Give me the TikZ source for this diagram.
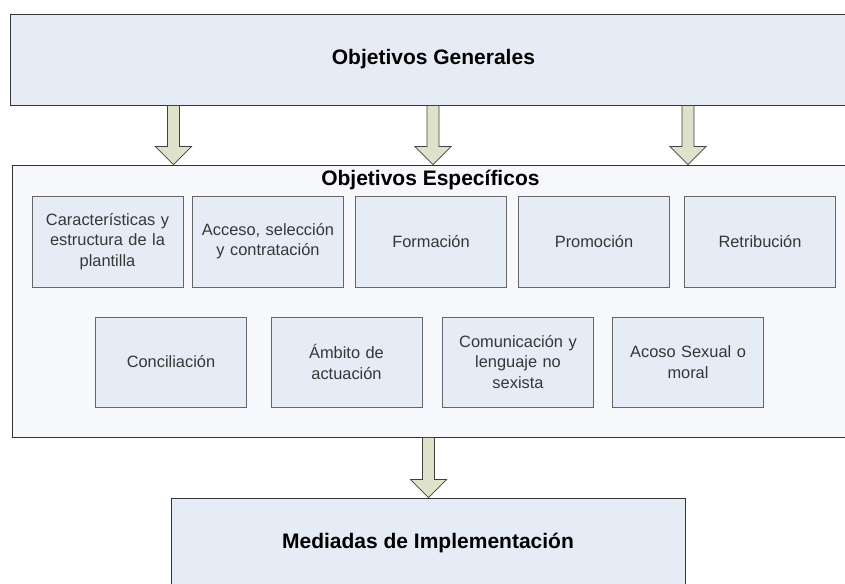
\documentclass[tikz,border=0pt]{standalone}
\usepackage{fontspec}
\setmainfont{Liberation Sans}
\usetikzlibrary{calc}
\definecolor{boxfill}{HTML}{E6ECF6}
\definecolor{midfill}{HTML}{F7F8FC}
\definecolor{arrfill}{HTML}{DDE2CA}
\definecolor{innertext}{HTML}{363636}
\begin{document}
\begin{tikzpicture}[x=1pt,y=-1pt,
  outerbox/.style={draw=black!80,line width=0.9pt,fill=boxfill,rectangle,inner sep=0pt},
  innerbox/.style={draw=black!60,line width=0.8pt,fill=boxfill,rectangle,inner sep=0pt,
    minimum width=151pt,minimum height=91pt,text width=145pt,align=center,
    font=\fontsize{16.4}{20.3}\selectfont,text=innertext},
  titletext/.style={font=\fontsize{21}{24}\selectfont\bfseries,text=black},
  barrow/.style={draw=black!75,line width=0.7pt,fill=arrfill,line join=miter}]
\useasboundingbox (0,0) rectangle (845,583);
% boxes
\node[outerbox,minimum width=845.2pt,minimum height=91pt] (top) at (433.4,59.5) {};
\node[titletext] (toptxt) at (433.4,59.5) {Objetivos Generales};
\node[outerbox,fill=midfill,minimum width=835.3pt,minimum height=272pt] (mid) at (430.4,301) {};
\node[titletext] (midtxt) at (430.4,180) {Objetivos Específicos};
\node[outerbox,minimum width=514pt,minimum height=90pt] (bot) at (428,543) {};
\node[titletext] (bottxt) at (428,543) {Mediadas de Implementación};
% inner boxes row 1
\node[innerbox] (b1) at (107.5,241.5) {Características y\\estructura de la\\plantilla};
\node[innerbox] (b2) at (268,241.5) {Acceso, selección\\y contratación};
\node[innerbox] (b3) at (431,241.5) {Formación};
\node[innerbox] (b4) at (594,241.5) {Promoción};
\node[innerbox] (b5) at (760,241.5) {Retribución};
% row 2
\node[innerbox,minimum height=90pt] (c1) at (171,362) {Conciliación};
\node[innerbox,minimum height=90pt] (c2) at (346.5,362) {Ámbito de\\actuación};
\node[innerbox,minimum height=90pt] (c3) at (518,362) {Comunicación y\\lenguaje no\\sexista};
\node[innerbox,minimum height=90pt] (c4) at (688,362) {Acoso Sexual o\\moral};
% block arrows
\coordinate (a1) at (173.5,0);
\coordinate (a2) at (433,0);
\coordinate (a3) at (688,0);
\coordinate (a4) at (428.5,0);
\foreach \a in {a1,a2,a3}{
  \draw[barrow] ($(top.south -| \a)+(-6,0)$) -- ($(mid.north -| \a)+(-6,-18)$)
    -- ($(mid.north -| \a)+(-18,-18)$) -- (mid.north -| \a)
    -- ($(mid.north -| \a)+(18,-18)$) -- ($(mid.north -| \a)+(6,-18)$)
    -- ($(top.south -| \a)+(6,0)$) -- cycle;
}
\draw[barrow] ($(mid.south -| a4)+(-6,0)$) -- ($(bot.north -| a4)+(-6,-18)$)
    -- ($(bot.north -| a4)+(-18,-18)$) -- (bot.north -| a4)
    -- ($(bot.north -| a4)+(18,-18)$) -- ($(bot.north -| a4)+(6,-18)$)
    -- ($(mid.south -| a4)+(6,0)$) -- cycle;
\end{tikzpicture}
\end{document}
